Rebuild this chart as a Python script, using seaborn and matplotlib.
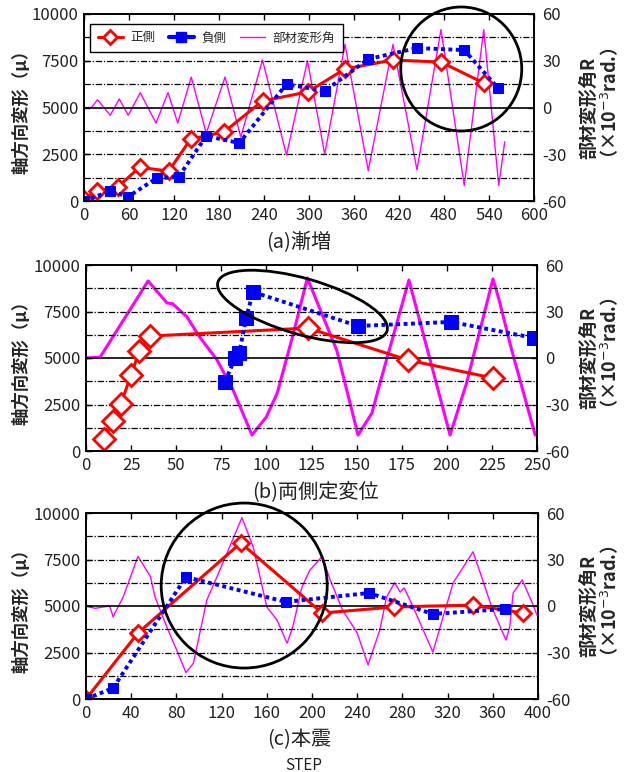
import numpy as np
import matplotlib
matplotlib.use("Agg")
import matplotlib.pyplot as plt
import matplotlib.transforms as mtransforms
from matplotlib.patches import Ellipse
from matplotlib.lines import Line2D
from matplotlib.ticker import MultipleLocator
import seaborn as sns

sns.set_theme(style="ticks")
plt.rcParams['font.family'] = ['Noto Sans CJK JP', 'DejaVu Sans']
plt.rcParams['axes.unicode_minus'] = False

# (a) 漸増
a_pos_x = [0, 17, 45, 74, 113, 142, 187, 238, 298, 348, 412, 476, 533]
a_pos_y = [100, 535, 750, 1800, 1600, 3300, 3700, 5350, 5830, 7060, 7540, 7430, 6310]
a_neg_x = [0, 35, 59, 97, 126, 163, 207, 270, 321, 379, 444, 507, 552]
a_neg_y = [0, 530, 230, 1230, 1280, 3480, 3100, 6250, 5880, 7590, 8180, 8070, 6040]
a_ang_x = [0, 10, 18, 35, 47, 59, 75, 96, 112, 125, 143, 163, 188, 209, 238, 270,
           298, 321, 348, 379, 412, 444, 476, 507, 533, 553, 561]
a_ang_y = [0, 0, 5, -5, 5.5, -5, 9.5, -10, 9.5, -10, 19.5, -16.5, 19.5, -19, 30.5, -30.5,
           30, -30, 40.5, -40.5, 40.5, -40, 50, -50, 50, -50, -22]

# (b) 両側定変位
b_pos_x = [10, 15, 19.3, 25, 29.5, 35.5, 123, 178.5, 225.6]
b_pos_y = [645, 1610, 2530, 4090, 5380, 6180, 6610, 4890, 3920]
b_neg_x = [77, 82.6, 85, 88.7, 92.6, 150.8, 202.3, 248.3]
b_neg_y = [3710, 5000, 5270, 7150, 8550, 6720, 6940, 6080]
b_ang_x = [0, 7.8, 34.4, 44.9, 48, 56, 63, 72.5, 81.5, 92, 100, 106, 115, 122.7, 139,
           150.8, 158.5, 163, 179, 201.8, 211, 225.6, 229, 236, 249]
b_ang_y = [0, 0.5, 49.7, 35.5, 35, 26.5, 13.5, -1, -20.6, -49.7, -38, -22.6, 16, 51.6, 5,
           -49.7, -35.5, -16, 50.3, -49.7, -16, 51, 37.4, 5, -49.7]

# (c) 本震
c_pos_x = [0, 46, 137, 209, 272.6, 342.5, 386.7]
c_pos_y = [0, 3550, 8390, 4620, 4950, 5050, 4620]
c_neg_x = [0, 24, 88.5, 177, 250.4, 307, 370.8]
c_neg_y = [0, 590, 6560, 5220, 5700, 4570, 4840]
c_ang_x = [0, 8, 21, 24, 33, 46, 57, 61, 71.5, 80, 88.5, 95, 107, 116, 138, 148, 160, 169,
           178, 183, 191, 198, 209, 216, 227, 240, 249.6, 260, 266, 273, 278, 281.6, 286.7,
           307, 316, 325, 342.5, 351, 359, 371.7, 375, 378, 386, 395, 399]
c_ang_y = [0, -1.5, 0, -7, 6, 32, 19, 6, -13.5, -28, -43, -37, 4, 19, 57, 38, -0.6, -9,
           -24, -13.5, 12, 23, 32, 17, -2.6, -17.4, -38, -15.5, 5.8, 15, 9, 11.6, 3.9,
           -29.7, -7, 15, 35, 16.8, -0.6, -22, -13.5, 8.4, 16.8, 1.9, -5.8]

captions = ["(a)漸増", "(b)両側定変位", "(c)本震"]
left_label = "軸方向変形（μ）"
right_label = "部材変形角R\n（×10$^{-3}$rad.）"
legend_labels = ["正側", "負側", "部材変形角"]

RED = "#ff0000"
BLUE = "#0000ff"
MAG = "#ff00ff"

fig = plt.figure(figsize=(6.35, 7.72), dpi=100)
W, H = 635, 772


def px_axes(l, t, r, b):
    return fig.add_axes([l / W, 1 - b / H, (r - l) / W, (b - t) / H])


panels = [
    dict(box=(84, 14, 534, 201), xmax=600, xstep=60,
         pos=(a_pos_x, a_pos_y), neg=(a_neg_x, a_neg_y), ang=(a_ang_x, a_ang_y),
         ms=8.5, sq=7, alw=1.0, cap=(299, 243)),
    dict(box=(86, 265, 537, 451), xmax=250, xstep=25,
         pos=(b_pos_x, b_pos_y), neg=(b_neg_x, b_neg_y), ang=(b_ang_x, b_ang_y),
         ms=11, sq=10, alw=2.2, cap=(315, 492)),
    dict(box=(86, 513, 538, 699), xmax=400, xstep=40,
         pos=(c_pos_x, c_pos_y), neg=(c_neg_x, c_neg_y), ang=(c_ang_x, c_ang_y),
         ms=8.5, sq=6.5, alw=1.0, cap=(299, 740)),
]

axes = []
for i, p in enumerate(panels):
    l, t, r, b = p["box"]
    ax = px_axes(l, t, r, b)
    ax2 = ax.twinx()
    ax.set_zorder(ax2.get_zorder() + 1)
    ax.patch.set_visible(False)

    sns.lineplot(x=p["ang"][0], y=p["ang"][1], ax=ax2, color=MAG, lw=p["alw"],
                 sort=False, estimator=None)
    sns.lineplot(x=p["pos"][0], y=p["pos"][1], ax=ax, color=RED, lw=2.2,
                 marker="D", markersize=p["ms"], markeredgewidth=2,
                 markeredgecolor=RED, markerfacecolor="white", sort=False, estimator=None)
    sns.lineplot(x=p["neg"][0], y=p["neg"][1], ax=ax, color=BLUE, lw=2.8,
                 linestyle=(0, (1, 0.9)), marker="s", markersize=p["sq"],
                 markeredgecolor=BLUE, markerfacecolor=BLUE, sort=False, estimator=None)

    ax.set_xlim(0, p["xmax"])
    ax.set_ylim(0, 10000)
    ax2.set_ylim(-60, 60)
    ax.set_xticks(np.arange(0, p["xmax"] + 1, p["xstep"]))
    ax.set_yticks([0, 2500, 5000, 7500, 10000])
    ax.yaxis.set_minor_locator(MultipleLocator(1250))
    ax2.set_yticks([-60, -30, 0, 30, 60])
    ax.set_xlabel("")
    ax.set_ylabel("")
    ax2.set_ylabel("")

    for lv in np.arange(1250, 10000, 1250):
        if lv == 5000:
            ax.axhline(lv, color="black", lw=1.2, zorder=0.5)
        else:
            ax.axhline(lv, color="black", lw=0.9, linestyle=(0, (5, 1.5, 1, 1.5)), zorder=0.5)

    ax.tick_params(axis="both", which="major", direction="in", labelsize=12,
                   length=4, width=1, colors="black", pad=4, top=True, labelcolor="#222222")
    ax.tick_params(axis="y", which="minor", length=0)
    ax2.tick_params(axis="y", direction="in", labelsize=12, length=4, width=1,
                    labelcolor="#222222", pad=6)
    for a in (ax, ax2):
        for s in a.spines.values():
            s.set_color("black")
            s.set_linewidth(1.2)

    fig.text(p["cap"][0] / W, 1 - p["cap"][1] / H, captions[i], ha="center", va="center",
             fontsize=14.5, color="#222222")
    fig.text(22 / W, 1 - (t + b) / 2 / H, left_label, rotation=90, ha="center", va="center",
             fontsize=12.5, fontweight="bold")
    fig.text(600 / W, 1 - (t + b) / 2 / H, right_label, rotation=90, ha="center", va="center",
             fontsize=13, fontweight="bold", linespacing=1.0, multialignment="center")
    axes.append((ax, ax2))

# annotation circles, sized in inches (figure dpi 100)
marks = [
    (0, 503, 7060, 1.21, 1.24, 0),
    (1, 120, 7770, 1.76, 0.56, -16),
    (2, 140, 6100, 1.66, 1.65, 0),
]
for idx, cx, cy, w, h, ang in marks:
    ax = axes[idx][0]
    tr = fig.dpi_scale_trans + mtransforms.ScaledTranslation(cx, cy, ax.transData)
    ax.add_patch(Ellipse((0, 0), w, h, angle=ang, transform=tr, fill=False,
                         edgecolor="black", lw=2, clip_on=False, zorder=5))

handles = [
    Line2D([], [], color=RED, lw=2.2, marker="D", markersize=7, markeredgewidth=2,
           markerfacecolor="white", markeredgecolor=RED),
    Line2D([], [], color=BLUE, lw=3, marker="s", markersize=6.5, markerfacecolor=BLUE),
    Line2D([], [], color=MAG, lw=1),
]
axes[0][0].legend(handles, legend_labels, loc="upper left", bbox_to_anchor=(0.008, 0.96),
                  ncol=3, fontsize=9, frameon=True, fancybox=False, framealpha=1,
                  edgecolor="black", handlelength=2.0, columnspacing=1.1, borderpad=0.6,
                  handletextpad=0.6, borderaxespad=0.2)

fig.text(304 / W, 1 - 765 / H, "STEP", ha="center", va="center", fontsize=11,
         color="#222222")

fig.savefig("out.png", dpi=100)
